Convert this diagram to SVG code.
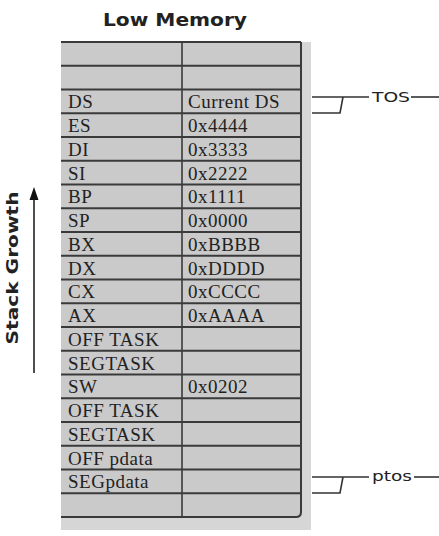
<svg xmlns="http://www.w3.org/2000/svg" width="439" height="536" viewBox="0 0 439 536">
<style>
.cell{font-family:"Liberation Serif","Times New Roman",serif;font-size:19px;fill:#222;letter-spacing:0.5px}
.hl{stroke:#3a3a3a;stroke-width:2;fill:none}
.conn{stroke:#333;stroke-width:1.6;fill:none}
.lbl{font-family:"DejaVu Sans","Liberation Sans",sans-serif;fill:#222}
</style>
<defs>
<marker id="ah" viewBox="0 0 10 12" refX="5" refY="0" markerWidth="10" markerHeight="12" markerUnits="userSpaceOnUse" orient="auto-start-reverse">
<path d="M5,0 L9,12 L1,12 Z" fill="#111"/>
</marker>
</defs>
<rect width="439" height="536" fill="#fff"/>
<text class="lbl" x="175" y="26" font-size="18" font-weight="bold" text-anchor="middle" textLength="144" lengthAdjust="spacingAndGlyphs">Low Memory</text>
<g id="stack-growth">
<text class="lbl" transform="translate(18,268) rotate(-90)" font-size="15" font-weight="bold" text-anchor="middle" textLength="153" lengthAdjust="spacingAndGlyphs">Stack Growth</text>
<line x1="34" y1="373" x2="34" y2="197" stroke="#222" stroke-width="1.6"/>
<path d="M34,187 L38.5,200 L29.5,200 Z" fill="#111"/>
</g>
<g id="stack-frame">
<rect x="61" y="42" width="250" height="488" fill="#d6d6d6"/>
<path d="M61,42 H301 V512 Q301,517 296,517 H61 Z" fill="#cacaca"/>
<g class="hl">
<line x1="61" y1="42" x2="301" y2="42"/>
<line x1="61" y1="65.75" x2="301" y2="65.75"/>
<line x1="61" y1="89.5" x2="301" y2="89.5"/>
<line x1="61" y1="113.25" x2="301" y2="113.25"/>
<line x1="61" y1="137" x2="301" y2="137"/>
<line x1="61" y1="160.75" x2="301" y2="160.75"/>
<line x1="61" y1="184.5" x2="301" y2="184.5"/>
<line x1="61" y1="208.25" x2="301" y2="208.25"/>
<line x1="61" y1="232" x2="301" y2="232"/>
<line x1="61" y1="255.75" x2="301" y2="255.75"/>
<line x1="61" y1="279.5" x2="301" y2="279.5"/>
<line x1="61" y1="303.25" x2="301" y2="303.25"/>
<line x1="61" y1="327" x2="301" y2="327"/>
<line x1="61" y1="350.75" x2="301" y2="350.75"/>
<line x1="61" y1="374.5" x2="301" y2="374.5"/>
<line x1="61" y1="398.25" x2="301" y2="398.25"/>
<line x1="61" y1="422" x2="301" y2="422"/>
<line x1="61" y1="445.75" x2="301" y2="445.75"/>
<line x1="61" y1="469.5" x2="301" y2="469.5"/>
<line x1="61" y1="493.25" x2="301" y2="493.25"/>
<path d="M61,517 H296 Q301,517 301,512 V42"/>
<line x1="182" y1="42" x2="182" y2="517" stroke-width="1.6"/>
</g>
</g>
<g id="rows">
<text class="cell" x="68" y="108.25">DS</text><text class="cell" x="188" y="108.25">Current DS</text>
<text class="cell" x="68" y="132">ES</text><text class="cell" x="188" y="132">0x4444</text>
<text class="cell" x="68" y="155.75">DI</text><text class="cell" x="188" y="155.75">0x3333</text>
<text class="cell" x="68" y="179.5">SI</text><text class="cell" x="188" y="179.5">0x2222</text>
<text class="cell" x="68" y="203.25">BP</text><text class="cell" x="188" y="203.25">0x1111</text>
<text class="cell" x="68" y="227">SP</text><text class="cell" x="188" y="227">0x0000</text>
<text class="cell" x="68" y="250.75">BX</text><text class="cell" x="188" y="250.75">0xBBBB</text>
<text class="cell" x="68" y="274.5">DX</text><text class="cell" x="188" y="274.5">0xDDDD</text>
<text class="cell" x="68" y="298.25">CX</text><text class="cell" x="188" y="298.25">0xCCCC</text>
<text class="cell" x="68" y="322">AX</text><text class="cell" x="188" y="322">0xAAAA</text>
<text class="cell" x="68" y="345.75">OFF TASK</text>
<text class="cell" x="68" y="369.5">SEGTASK</text>
<text class="cell" x="68" y="393.25">SW</text><text class="cell" x="188" y="393.25">0x0202</text>
<text class="cell" x="68" y="417">OFF TASK</text>
<text class="cell" x="68" y="440.75">SEGTASK</text>
<text class="cell" x="68" y="464.5">OFF pdata</text>
<text class="cell" x="68" y="488.25">SEGpdata</text>
</g>
<g id="connectors">
<path class="conn" d="M312,97 H369 M312,113 H340 L343,97"/>
<line class="conn" x1="411" y1="97" x2="439" y2="97"/>
<path class="conn" d="M312,477 H369 M312,493 H340 L343,477"/>
<line class="conn" x1="414" y1="477" x2="439" y2="477"/>
</g>
<g id="tos">
<text class="lbl" x="372" y="102" font-size="14" textLength="38" lengthAdjust="spacingAndGlyphs">TOS</text>
</g>
<g id="ptos">
<text class="lbl" x="372" y="481" font-size="14" textLength="40" lengthAdjust="spacingAndGlyphs">ptos</text>
</g>
</svg>
